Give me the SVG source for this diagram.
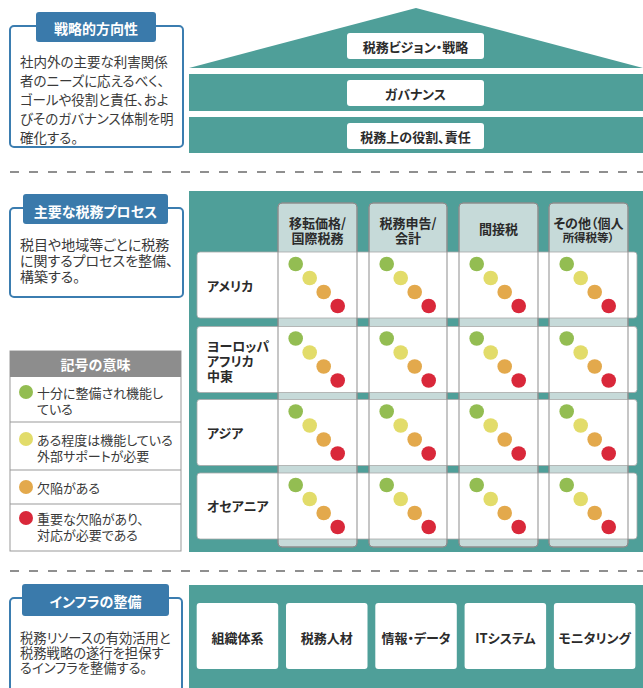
<svg xmlns="http://www.w3.org/2000/svg" width="643" height="688" viewBox="0 0 643 688">
<defs>
<style>
text{font-family:"Noto Sans CJK JP","Noto Sans",sans-serif;font-feature-settings:"palt";dominant-baseline:central}
.teal{fill:#4f9f99}
.tab{fill:#3a7aab}
.obox{fill:#fff;stroke:#3b7db0;stroke-width:2}
.tabt{fill:#fff;font-size:14px;font-weight:700;text-anchor:middle}
.body{fill:#3a3a3a;font-size:13.5px}
.lbl{fill:#2b2b2b;font-size:13px;font-weight:700;text-anchor:middle}
.rowl{fill:#2b2b2b;font-size:13px;font-weight:700}
.wbox{fill:#fff;rx:3px}
.dash{stroke:#6b6b6b;stroke-width:1.3;stroke-dasharray:9 10;fill:none}
.colf{fill:#c6dad9;stroke:#8d8d8d;stroke-width:1}
.colo{fill:none;stroke:#8d8d8d;stroke-width:1}
.row{fill:#fff;stroke:#a8a8a8;stroke-width:0.8}
.g{fill:#93bd52}.y{fill:#e2dc6a}.o{fill:#e3a94c}.r{fill:#d9283a}
.leg{fill:#3a3a3a;font-size:13px}
</style>
<g id="dots">
<circle class="g" cx="17.7" cy="12" r="7.3"/>
<circle class="y" cx="31.7" cy="26" r="7.3"/>
<circle class="o" cx="45.7" cy="40" r="7.3"/>
<circle class="r" cx="59.7" cy="54" r="7.3"/>
</g>
</defs>
<rect width="643" height="688" fill="#fff"/>

<g id="connectors">
<line class="dash" x1="10" y1="172" x2="643" y2="172"/>
<line class="dash" x1="10" y1="571" x2="643" y2="571"/>
</g>

<!-- Section 1 -->
<g id="strategy-box">
<rect class="obox" x="10" y="26" width="173" height="121" rx="4"/>
<rect class="tab" x="36" y="12" width="120" height="30" rx="3"/>
<text class="tabt" x="96" y="28">戦略的方向性</text>
<text class="body" x="20" y="61"><tspan x="20" y="61">社内外の主要な利害関係</tspan><tspan x="20" y="80">者のニーズに応えるべく、</tspan><tspan x="20" y="99">ゴールや役割と責任、およ</tspan><tspan x="20" y="118">びそのガバナンス体制を明</tspan><tspan x="20" y="137">確化する。</tspan></text>
</g>
<g id="roof">
<polygon class="teal" points="189,68 416,8 643,68"/>
<rect class="wbox" x="347" y="33" width="137" height="26"/>
<text class="lbl" x="415.5" y="46">税務ビジョン・戦略</text>
</g>
<g id="governance">
<rect class="teal" x="189" y="74" width="454" height="37"/>
<rect class="wbox" x="347" y="80" width="137" height="26"/>
<text class="lbl" x="415.5" y="93">ガバナンス</text>
</g>
<g id="roles">
<rect class="teal" x="189" y="117" width="454" height="36"/>
<rect class="wbox" x="347" y="123" width="137" height="26"/>
<text class="lbl" x="415.5" y="136">税務上の役割、責任</text>
</g>

<!-- Section 2 -->
<g id="process-box">
<rect class="obox" x="10" y="208" width="173" height="89" rx="4"/>
<rect class="tab" x="23" y="194" width="145" height="30" rx="3"/>
<text class="tabt" x="95.5" y="211">主要な税務プロセス</text>
<text class="body" x="20" y="244" style="font-size:14px"><tspan x="20" y="244">税目や地域等ごとに税務</tspan><tspan x="20" y="260">に関するプロセスを整備、</tspan><tspan x="20" y="276">構築する。</tspan></text>
</g>

<g id="legend">
<rect x="10" y="351" width="171" height="200" fill="#fff" stroke="#999" stroke-width="1"/>
<rect x="10" y="351" width="171" height="26" fill="#8d8d8d"/>
<text class="tabt" x="95.5" y="364">記号の意味</text>
<line x1="10" y1="422" x2="181" y2="422" stroke="#999"/>
<line x1="10" y1="470" x2="181" y2="470" stroke="#999"/>
<line x1="10" y1="504" x2="181" y2="504" stroke="#999"/>
<circle class="g" cx="26" cy="392" r="7"/>
<text class="leg" x="37" y="392"><tspan x="37" y="392">十分に整備され機能し</tspan><tspan x="37" y="408">ている</tspan></text>
<circle class="y" cx="26" cy="439" r="7"/>
<text class="leg" x="37" y="439"><tspan x="37" y="439">ある程度は機能している</tspan><tspan x="37" y="455">外部サポートが必要</tspan></text>
<circle class="o" cx="26" cy="487" r="7"/>
<text class="leg" x="37" y="487">欠陥がある</text>
<circle class="r" cx="26" cy="518" r="7"/>
<text class="leg" x="37" y="518"><tspan x="37" y="518">重要な欠陥があり、</tspan><tspan x="37" y="534">対応が必要である</tspan></text>
</g>

<g id="process-grid">
<rect class="teal" x="189" y="191" width="454" height="361"/>
<g id="columns">
<rect class="colf" x="278" y="203" width="79" height="344" rx="4"/>
<rect class="colf" x="369" y="203" width="78" height="344" rx="4"/>
<rect class="colf" x="459" y="203" width="79" height="344" rx="4"/>
<rect class="colf" x="549" y="203" width="79" height="344" rx="4"/>
<text class="lbl" x="317.5" y="221.5"><tspan x="317.5" y="221.5">移転価格/</tspan><tspan x="317.5" y="236.5">国際税務</tspan></text>
<text class="lbl" x="408" y="221.5"><tspan x="408" y="221.5">税務申告/</tspan><tspan x="408" y="236.5">会計</tspan></text>
<text class="lbl" x="498.5" y="228">間接税</text>
<text class="lbl" x="588.5" y="221.5"><tspan x="588.5" y="221.5">その他（個人</tspan><tspan x="588.5" y="236.5" style="font-size:11.5px">所得税等）</tspan></text>
</g>
<g id="rows">
<rect class="row" x="197" y="252" width="440" height="66" rx="3"/>
<rect class="row" x="197" y="326.5" width="440" height="66" rx="3"/>
<rect class="row" x="197" y="399.5" width="440" height="66" rx="3"/>
<rect class="row" x="197" y="473" width="440" height="66" rx="3"/>
<text class="rowl" x="207" y="285">アメリカ</text>
<text class="rowl" x="207" y="345"><tspan x="207" y="345">ヨーロッパ</tspan><tspan x="207" y="360">アフリカ</tspan><tspan x="207" y="375">中東</tspan></text>
<text class="rowl" x="207" y="432">アジア</text>
<text class="rowl" x="207" y="505">オセアニア</text>
</g>
<g id="column-outlines">
<rect class="colo" x="278" y="203" width="79" height="344" rx="4"/>
<rect class="colo" x="369" y="203" width="78" height="344" rx="4"/>
<rect class="colo" x="459" y="203" width="79" height="344" rx="4"/>
<rect class="colo" x="549" y="203" width="79" height="344" rx="4"/>
</g>
<g id="ratings">
<use href="#dots" x="278" y="252"/><use href="#dots" x="369" y="252"/><use href="#dots" x="459" y="252"/><use href="#dots" x="549" y="252"/>
<use href="#dots" x="278" y="326.5"/><use href="#dots" x="369" y="326.5"/><use href="#dots" x="459" y="326.5"/><use href="#dots" x="549" y="326.5"/>
<use href="#dots" x="278" y="399.5"/><use href="#dots" x="369" y="399.5"/><use href="#dots" x="459" y="399.5"/><use href="#dots" x="549" y="399.5"/>
<use href="#dots" x="278" y="473"/><use href="#dots" x="369" y="473"/><use href="#dots" x="459" y="473"/><use href="#dots" x="549" y="473"/>
</g>
</g>

<!-- Section 3 -->
<g id="infra-box">
<rect class="obox" x="10" y="598" width="172" height="100" rx="4"/>
<rect class="tab" x="22" y="584" width="147" height="32" rx="3"/>
<text class="tabt" x="95.5" y="601">インフラの整備</text>
<text class="body" x="20" y="637" style="font-size:13.3px"><tspan x="20" y="637">税務リソースの有効活用と</tspan><tspan x="20" y="652">税務戦略の遂行を担保す</tspan><tspan x="20" y="667">るインフラを整備する。</tspan></text>
</g>
<g id="infra-panel">
<rect class="teal" x="189" y="585" width="454" height="103"/>
</g>
<g id="infra-org"><rect class="wbox" x="196.7" y="603" width="81.5" height="66"/><text class="lbl" x="237.5" y="637">組織体系</text></g>
<g id="infra-people"><rect class="wbox" x="286" y="603" width="81.5" height="66"/><text class="lbl" x="326.8" y="637">税務人材</text></g>
<g id="infra-data"><rect class="wbox" x="375.3" y="603" width="81.5" height="66"/><text class="lbl" x="416" y="637">情報・データ</text></g>
<g id="infra-it"><rect class="wbox" x="464.6" y="603" width="81.5" height="66"/><text class="lbl" x="505.4" y="637">ITシステム</text></g>
<g id="infra-monitoring"><rect class="wbox" x="553.9" y="603" width="81.5" height="66"/><text class="lbl" x="594.7" y="637">モニタリング</text></g>
</svg>
